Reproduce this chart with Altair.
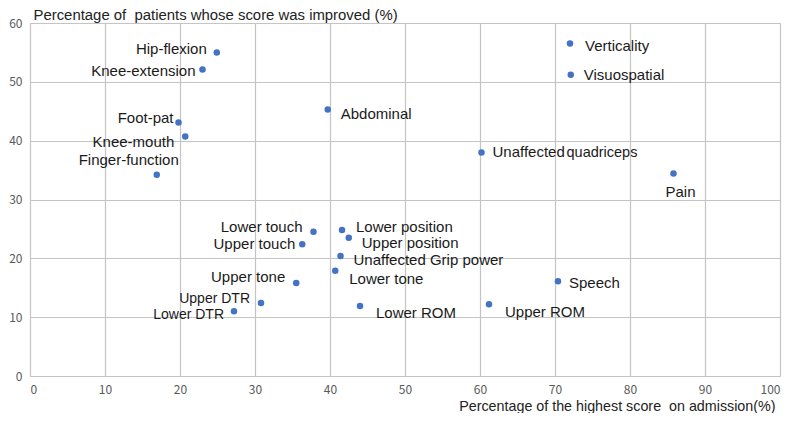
import altair as alt
import pandas as pd

names = ["Hip-flexion", "Knee-extension", "Foot-pat", "Knee-mouth", "Finger-function",
         "Abdominal", "Verticality", "Visuospatial", "Unaffected quadriceps", "Pain",
         "Lower touch", "Upper touch", "Lower position", "Upper position",
         "Unaffected Grip power", "Lower tone", "Upper tone", "Upper DTR", "Lower DTR",
         "Lower ROM", "Speech", "Upper ROM"]
admission = [24.9, 23.0, 19.8, 20.7, 16.9, 39.7, 72.0, 72.1, 60.2, 85.8,
             37.8, 36.3, 41.6, 42.5, 41.4, 40.7, 35.5, 30.8, 27.2, 44.0, 70.4, 61.2]
improved = [55.0, 52.1, 43.1, 40.7, 34.2, 45.3, 56.5, 51.2, 38.0, 34.4,
            24.5, 22.4, 24.8, 23.5, 20.4, 17.9, 15.8, 12.4, 11.0, 11.9, 16.1, 12.2]

x_ticks = list(range(0, 101, 10))
y_ticks = list(range(0, 61, 10))

# label layout: text pieces with alignment, pixel offsets and font size
label_layout = {
    "Hip-flexion": [("Hip-flexion", "right", -10, -3, 15)],
    "Knee-extension": [("Knee-extension", "right", -7, 1.5, 15)],
    "Foot-pat": [("Foot-pat", "right", -5, -4, 15)],
    "Knee-mouth": [("Knee-mouth", "right", -11, 5, 15)],
    "Finger-function": [("Finger-function", "right", 22, -15, 15)],
    "Abdominal": [("Abdominal", "left", 13, 5, 15)],
    "Verticality": [("Verticality", "left", 15, 2, 15)],
    "Visuospatial": [("Visuospatial", "left", 13, 0, 15)],
    "Unaffected quadriceps": [("Unaffected", "left", 11, 0, 15),
                              ("quadriceps", "left", 85, 1, 14.5)],
    "Pain": [("Pain", "center", 7, 18, 15)],
    "Lower touch": [("Lower touch", "right", -11, -5, 15)],
    "Upper touch": [("Upper touch", "right", -7, 0, 15)],
    "Lower position": [("Lower position", "left", 14, -3, 15)],
    "Upper position": [("Upper position", "left", 13, 5, 15)],
    "Unaffected Grip power": [("Unaffected Grip power", "left", 13, 4, 15)],
    "Lower tone": [("Lower tone", "left", 14, 8, 15)],
    "Upper tone": [("Upper tone", "right", -11, -6, 15)],
    "Upper DTR": [("Upper DTR", "right", -11, -4, 14)],
    "Lower DTR": [("Lower DTR", "right", -10, 4, 14)],
    "Lower ROM": [("Lower ROM", "left", 16, 7, 15)],
    "Speech": [("Speech", "left", 11, 2, 15)],
    "Upper ROM": [("Upper ROM", "left", 16, 8, 15)],
}

pts = pd.DataFrame({"name": names, "admission": admission, "improved": improved})

tick_font = "Noto Sans CJK SC"
txt_font = "Liberation Sans"
grid_col = "#c4c4c4"

x_enc = alt.X("admission:Q",
              scale=alt.Scale(domain=[0, 100], nice=False, zero=False),
              axis=alt.Axis(values=x_ticks, domain=False, ticks=False, tickSize=0,
                            labelPadding=8, labelFont=tick_font, labelFontSize=12,
                            labelColor="#595959", gridColor=grid_col, gridWidth=1.2,
                            title="Percentage of the highest score\u00a0 on admission(%)",
                            titleFont=txt_font, titleFontSize=14.3, titleFontWeight="normal",
                            titleColor="#222222", titleAlign="right", titleAnchor="end",
                            titleX=745, titleY=34, titleBaseline="alphabetic"))
y_enc = alt.Y("improved:Q",
              scale=alt.Scale(domain=[0, 60], nice=False, zero=False),
              axis=alt.Axis(values=y_ticks, domain=False, ticks=False, tickSize=0,
                            labelPadding=8, labelFont=tick_font, labelFontSize=12,
                            labelColor="#595959", gridColor=grid_col, gridWidth=1.2,
                            title="Percentage of\u00a0 patients whose score was improved (%)",
                            titleFont=txt_font, titleFontSize=14.9, titleFontWeight="normal",
                            titleColor="#222222", titleAngle=0, titleAlign="left",
                            titleAnchor="start", titleX=3, titleY=-4,
                            titleBaseline="alphabetic"))

points = alt.Chart(pts).mark_point(filled=True, shape="circle", size=42,
                                   color="#4472C4", opacity=1).encode(x=x_enc, y=y_enc)

layers = [points]
for n in names:
    for txt, al, dx, dy, fs in label_layout[n]:
        layers.append(
            alt.Chart(pts).transform_filter(alt.datum.name == n)
            .transform_calculate(label=f"'{txt}'")
            .mark_text(align=al, baseline="middle", font=txt_font, color="#1a1a1a",
                       dx=dx, dy=dy, fontSize=fs)
            .encode(x="admission:Q", y="improved:Q", text="label:N")
        )

chart = alt.layer(*layers).properties(
    width=750, height=353,
    autosize=alt.AutoSizeParams(type="none"),
    padding={"left": 22, "top": 15, "right": 3, "bottom": 37},
).configure_view(stroke=grid_col, strokeWidth=1.2).configure(background="white")

chart.save("out.html", embed_options={"renderer": "svg", "actions": False})
